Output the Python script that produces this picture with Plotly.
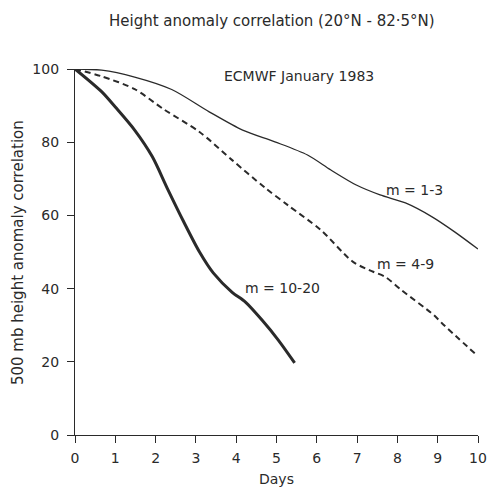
import plotly.graph_objects as go

# m = 1-3 (thin solid)
days_13 = [0, 0.66, 1.48, 2.4, 3.33, 4.16, 4.96, 5.77, 6.35, 6.98, 7.57, 8.2, 8.86, 9.42, 10.0]
corr_13 = [100, 99.7, 97.8, 94.4, 88.3, 83.3, 80.1, 76.5, 72.4, 68.3, 65.6, 63.4, 59.6, 55.5, 50.8]

# m = 4-9 (dashed)
days_49 = [0, 0.66, 1.48, 2.2, 3.09, 3.9, 4.72, 5.28, 6.1, 6.9, 7.4, 7.7, 8.1, 8.9, 9.1, 10.0]
corr_49 = [100, 98.0, 94.5, 89.0, 82.8, 75.1, 67.5, 62.8, 56.0, 47.3, 44.6, 43.2, 39.6, 32.8, 30.6, 21.5]

# m = 10-20 (thick solid)
days_1020 = [0, 0.66, 1.0, 1.48, 1.92, 2.29, 2.7, 3.09, 3.43, 3.9, 4.23, 4.64, 5.04, 5.45]
corr_1020 = [100, 93.8, 89.6, 83.3, 76.0, 67.4, 58.2, 50.0, 44.3, 39.0, 36.3, 31.4, 26.0, 19.7]

x_ticks = [0, 1, 2, 3, 4, 5, 6, 7, 8, 9, 10]
y_ticks = [0, 20, 40, 60, 80, 100]

FONT = "DejaVu Sans"
INK = "#2a2a2a"

fig = go.Figure()
fig.add_trace(go.Scatter(x=days_13, y=corr_13, mode="lines",
                         line=dict(color=INK, width=1.3, shape="spline", smoothing=0.8), cliponaxis=False))
fig.add_trace(go.Scatter(x=days_49, y=corr_49, mode="lines",
                         line=dict(color=INK, width=2, dash="6px,4px", shape="spline", smoothing=0.8), cliponaxis=False))
fig.add_trace(go.Scatter(x=days_1020, y=corr_1020, mode="lines",
                         line=dict(color=INK, width=3, shape="spline", smoothing=0.8), cliponaxis=False))

ann_font = dict(family=FONT, size=14, color=INK)
fig.add_annotation(x=8.42, y=66.9, text="m = 1-3", showarrow=False, font=ann_font)
fig.add_annotation(x=8.2, y=46.7, text="m = 4-9", showarrow=False, font=ann_font)
fig.add_annotation(x=5.16, y=40.2, text="m = 10-20", showarrow=False, font=ann_font)
fig.add_annotation(x=5.55, y=98.0, text="ECMWF January 1983", showarrow=False,
                   font=dict(family=FONT, size=14, color=INK))
fig.add_annotation(xref="paper", yref="paper", x=0.49, y=1, yshift=48, xanchor="center", yanchor="middle",
                   text="Height anomaly correlation (20°N - 82·5°N)",
                   showarrow=False, font=dict(family=FONT, size=15, color=INK))
fig.add_annotation(xref="paper", yref="paper", x=0.5, y=0, yshift=-44, xanchor="center", yanchor="middle",
                   text="Days", showarrow=False, font=dict(family=FONT, size=14, color=INK))
fig.add_annotation(xref="paper", yref="paper", x=0, y=0.497, xshift=-57, xanchor="center", yanchor="middle",
                   textangle=-90, text="500 mb height anomaly correlation", showarrow=False,
                   font=dict(family=FONT, size=15, color=INK))

fig.update_layout(
    width=497, height=489,
    margin=dict(l=75, r=10, t=69, b=54),
    paper_bgcolor="white", plot_bgcolor="white",
    showlegend=False,
    font=dict(family=FONT, size=14, color=INK),
)
fig.update_xaxes(range=[0, 10], tickvals=x_ticks, ticktext=[str(v) for v in x_ticks],
                 showgrid=False, zeroline=False, showline=True, linecolor=INK, linewidth=1.3,
                 ticks="outside", ticklen=7, tickwidth=1.2, tickcolor=INK,
                 ticklabelstandoff=3, tickfont=dict(family=FONT, size=14))
fig.update_yaxes(range=[0, 100], tickvals=y_ticks, ticktext=[str(v) for v in y_ticks],
                 showgrid=False, zeroline=False, showline=True, linecolor=INK, linewidth=1.3,
                 ticks="outside", ticklen=7, tickwidth=1.2, tickcolor=INK,
                 ticklabelstandoff=5, tickfont=dict(family=FONT, size=14))

fig.write_html("out.html")
